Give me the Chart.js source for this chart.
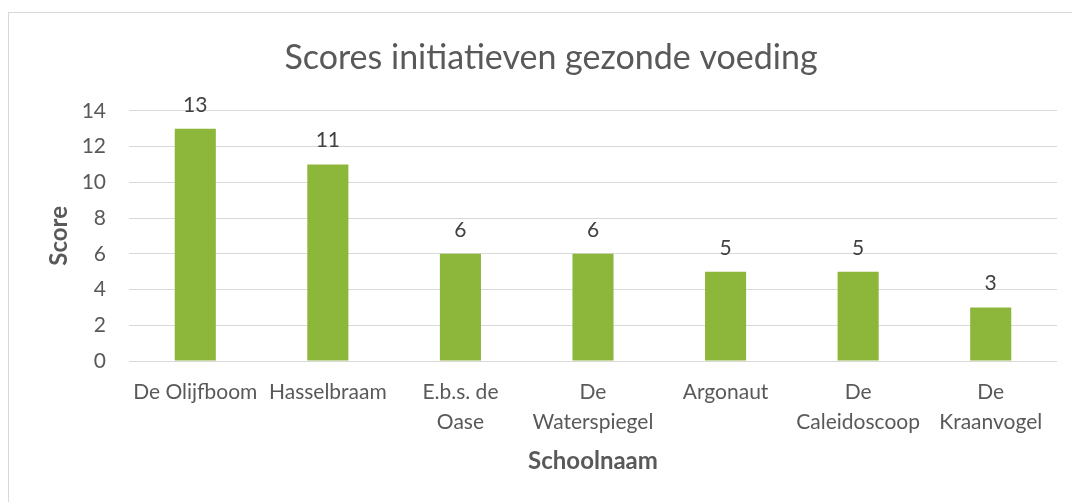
<!DOCTYPE html>
<html>
<head>
<meta charset="utf-8">
<script src="https://cdn.jsdelivr.net/npm/chart.js@4"></script>
<style>
  html, body { margin: 0; padding: 0; width: 1072px; height: 502px; overflow: hidden; background: #fff; }
  #frame { position: absolute; left: 8px; top: 12px; width: 1100px; height: 600px; border: 1px solid #d9d9d9; }
  #wrap { position: absolute; left: 0; top: 0; width: 1072px; height: 502px; }
</style>
</head>
<body>
<div id="frame"></div>
<div id="wrap"><canvas id="scores"></canvas></div>
<script>
// Data
var schools = [
  'De Olijfboom',
  'Hasselbraam',
  ['E.b.s. de', 'Oase'],
  ['De', 'Waterspiegel'],
  'Argonaut',
  ['De', 'Caleidoscoop'],
  ['De', 'Kraanvogel']
];
var scores = [13, 11, 6, 6, 5, 5, 3];
var yTicks = [0, 2, 4, 6, 8, 10, 12, 14];

var fontName = 'Lato, "Open Sans", sans-serif';

// value labels above the bars
var barLabels = {
  id: 'barLabels',
  afterDatasetsDraw: function (chart) {
    var ctx = chart.ctx;
    var meta = chart.getDatasetMeta(0);
    ctx.save();
    ctx.font = '21px ' + fontName;
    ctx.fillStyle = '#404040';
    ctx.textAlign = 'center';
    ctx.textBaseline = 'alphabetic';
    meta.data.forEach(function (bar, i) {
      ctx.fillText(scores[i], bar.x, bar.y - 17);
    });
    ctx.restore();
  }
};

var scores_ctx = document.getElementById('scores').getContext('2d');
var scores_chart = new Chart(scores_ctx, {
  type: 'bar',
  data: {
    labels: schools,
    datasets: [{
      label: 'Score',
      data: scores,
      backgroundColor: '#8db73a',
      borderWidth: 0,
      barPercentage: 0.31,
      categoryPercentage: 1
    }]
  },
  options: {
    responsive: true,
    maintainAspectRatio: false,
    animation: false,
    layout: { padding: { left: 45, right: 15, top: 20, bottom: 26 } },
    plugins: {
      legend: { display: false },
      tooltip: { enabled: false },
      title: {
        display: true,
        text: 'Scores initiatieven gezonde voeding',
        color: '#595959',
        font: { family: fontName, size: 34, weight: 'normal', lineHeight: 1.2 },
        padding: { top: 18, bottom: 32 }
      }
    },
    scales: {
      x: {
        grid: { display: false, drawTicks: false },
        border: { display: false },
        ticks: {
          color: '#595959',
          font: { family: fontName, size: 21, lineHeight: 1.43 },
          padding: 16,
          autoSkip: false,
          maxRotation: 0,
          minRotation: 0
        },
        title: {
          display: true,
          text: 'Schoolnaam',
          color: '#595959',
          font: { family: fontName, size: 24, weight: 'bold', lineHeight: 1.2 },
          padding: 0
        },
        afterFit: function (scale) { scale.height = 115; }
      },
      y: {
        min: yTicks[0],
        max: yTicks[yTicks.length - 1],
        afterBuildTicks: function (scale) {
          scale.ticks = yTicks.map(function (v) { return { value: v }; });
        },
        grid: { color: '#d9d9d9', lineWidth: 1, drawTicks: false },
        border: { display: false },
        ticks: {
          color: '#595959',
          font: { family: fontName, size: 21 },
          padding: 23
        },
        title: {
          display: true,
          text: 'Score',
          color: '#595959',
          font: { family: fontName, size: 24, weight: 'bold', lineHeight: 1.2 },
          padding: 0
        },
        afterFit: function (scale) { scale.width = 84; }
      }
    }
  },
  plugins: [barLabels]
});
</script>
</body>
</html>
